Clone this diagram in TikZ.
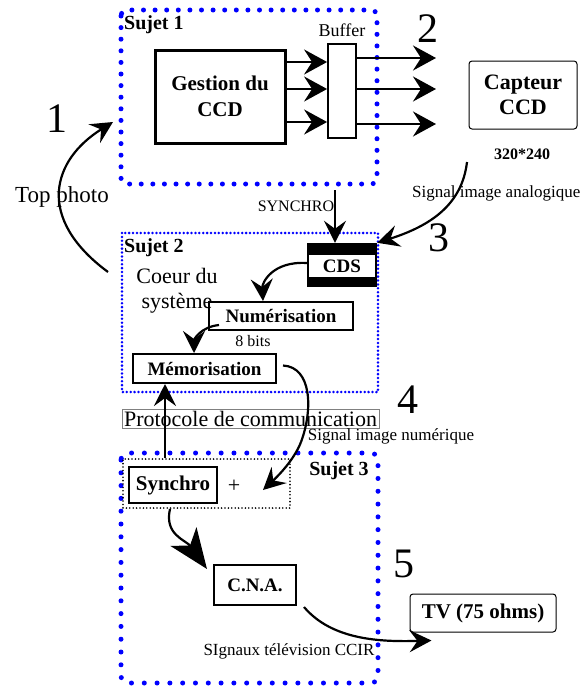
\documentclass[tikz,border=0pt]{standalone}
\usepackage{fontspec}
\setmainfont{Liberation Serif}
\usetikzlibrary{arrows.meta,calc}
\begin{document}
\begin{tikzpicture}[x=1pt,y=-1pt,
  bigtip/.tip={Stealth[length=23pt,width=25pt,inset=8pt]},
  medtip/.tip={Stealth[length=22pt,width=22pt,inset=8pt]},
  hugetip/.tip={Stealth[length=40pt,width=32pt,inset=11pt]},
  conn/.style={line width=2.2pt},
  bluebig/.style={draw=blue, line width=5pt, line cap=round, dash pattern=on 0pt off 11.6pt, rounded corners=6pt},
  bluebigb/.style={draw=blue, line width=5pt, line cap=round, dash pattern=on 0pt off 12.8pt, rounded corners=7pt},
  bluesmall/.style={draw=blue, line width=2.8pt, line cap=round, dash pattern=on 0pt off 3.9pt},
  blackdot/.style={draw=black, line width=1.8pt, line cap=round, dash pattern=on 0pt off 3.4pt},
  box/.style={draw, line width=2pt, inner sep=0pt, font=\bfseries\fontsize{19}{23}\selectfont},
  rbox/.style={draw, line width=1pt, rounded corners=3pt, inner sep=0pt, align=center},
  big/.style={font=\fontsize{42}{46}\selectfont, inner sep=0pt},
  lbl/.style={inner sep=0pt},
]
\useasboundingbox (0,0) rectangle (580,688);

% group boxes
\draw[bluebig] (121,10) rectangle (377,184);
\draw[bluesmall] (122,233) rectangle (378,392);
\draw[bluebigb] (121,453) rectangle (378,683);

\node[lbl, anchor=west, font=\bfseries\fontsize{20}{24}\selectfont] (s1) at (124,25) {Sujet 1};
\node[lbl, anchor=west, font=\bfseries\fontsize{20}{24}\selectfont] (s2) at (124,248) {Sujet 2};
\node[lbl, font=\bfseries\fontsize{20}{24}\selectfont] (s3) at (339,471) {Sujet 3};

% Sujet 1
\node[draw, line width=3pt, minimum width=130, minimum height=93, inner sep=0pt, align=center,
      font=\bfseries\fontsize{21}{26}\selectfont] (gestion) at (220,96.5) {Gestion du\\CCD};
\node[draw, line width=1.8pt, minimum width=28, minimum height=94, inner sep=0pt] (buffer) at (342,91) {};
\node[lbl, font=\fontsize{18}{22}\selectfont] (buflbl) at (342,30) {Buffer};
\foreach \yy in {62,89,122}{
  \draw[conn,-{bigtip}] (gestion.east |- 0,\yy) -- (buffer.west |- 0,\yy);
}
\coordinate (o1) at (436,58);
\coordinate (o2) at (436,89);
\coordinate (o3) at (436,124);
\draw[line width=2.5pt,-{bigtip}] (buffer.east |- o1) -- (o1);
\draw[line width=2.5pt,-{bigtip}] (buffer.east |- o2) -- (o2);
\draw[line width=2.5pt,-{bigtip}] (buffer.east |- o3) -- (o3);

\node[big] (n2) at (428,29) {2};
\node[big] (n1) at (57,119) {1};
\node[big] (n3) at (439,238) {3};
\node[big] (n4) at (408,400) {4};
\node[big] (n5) at (404,564) {5};

% Capteur
\node[rbox, minimum width=108, minimum height=68, font=\bfseries\fontsize{22}{25}\selectfont] (capteur) at (523,95) {Capteur\\CCD};
\node[lbl, font=\bfseries\fontsize{16}{19}\selectfont] (res) at (522,154) {320*240};
\node[lbl, anchor=west, font=\fontsize{17}{20}\selectfont] (sia) at (412,193) {Signal image analogique};

% CDS
\node[fill=black, minimum width=70, minimum height=44, inner sep=0pt] (cdsout) at (342,265) {};
\node[fill=white, minimum width=66, minimum height=22, inner sep=0pt, font=\bfseries\fontsize{19}{23}\selectfont] (cds) at (342,266) {CDS};

\coordinate (capstart) at (467,162);
\draw[conn,-{medtip}] (capstart) .. controls (462,205) and (430,226) .. (cdsout.north east);

% Top photo
\coordinate (tpstart) at (108,272);
\coordinate (tpend) at (113,122);
\draw[conn,-{medtip}] (tpstart) .. controls (35,218) and (52,160) .. (tpend);
\node[lbl, font=\fontsize{23}{27}\selectfont] (tp) at (62,197) {Top photo};

% SYNCHRO
\node[lbl, font=\fontsize{16}{19}\selectfont] (synclbl) at (296,206) {SYNCHRO};
\coordinate (syncstart) at (335,190);
\draw[conn,-{medtip}] (syncstart) -- (syncstart |- cdsout.north);

% Sujet 2 content
\node[lbl, align=center, font=\fontsize{22}{25}\selectfont] (coeur) at (177,291) {Coeur du\\système};
\node[box, minimum width=144, minimum height=28] (num) at (281,316) {Numérisation};
\node[lbl, font=\fontsize{16}{19}\selectfont] (bits) at (253,341) {8 bits};
\node[box, minimum width=143, minimum height=29] (mem) at (204.5,368.5) {Mémorisation};

\draw[conn,-{medtip}] (cdsout.west |- 0,263) .. controls (272,261) and (262,283) .. (num.north -| 263,0);
\draw[conn,-{medtip}] ($(num.south west)+(11,-6)$) .. controls (200,327) and (194,340) .. (mem.north -| 194,0);

% Protocole
\node[draw=gray, line width=1pt, minimum width=257, minimum height=19, inner sep=0pt,
      font=\fontsize{22}{24}\selectfont] (proto) at (250.5,418.5) {Protocole de communication};
\node[lbl, font=\fontsize{17}{20}\selectfont] (sin) at (391,436) {Signal image numérique};

% Sujet 3 content
\node[blackdot, minimum width=167, minimum height=49, inner sep=0pt] (grp) at (206.5,483.5) {};
\node[box, minimum width=88, minimum height=36, font=\bfseries\fontsize{21}{25}\selectfont] (synchro) at (173,485) {Synchro};
\node[lbl, font=\fontsize{22}{24}\selectfont] (plus) at (234,486) {+};
\coordinate (pc) at (165,458);
\draw[conn,-{medtip}] (pc) -- (pc |- mem.south);

\coordinate (plustip) at (263,490);
\draw[conn] ($(mem.east)+(6,-3)$) .. controls (312,367) and (313,410) .. (301,442);
\draw[conn,-{medtip}] (301,442) .. controls (294,460) and (278,476) .. (plustip);

\node[box, minimum width=82, minimum height=40] (cna) at (255,585) {C.N.A.};
\draw[conn,-{hugetip}] (grp.south -| 170,0) .. controls (164,535) and (186,540) .. ($(cna.north west)+(-6,5)$);

\node[rbox, minimum width=146, minimum height=38, font=\bfseries\fontsize{21}{25}\selectfont] (tv) at (483,613) {TV (75 ohms)};
\draw[conn,-{medtip}] ($(cna.south east)+(7,1)$) .. controls (332,640) and (380,642) .. ($(tv.south west)+(22,8)$);
\node[lbl, font=\fontsize{17}{20}\selectfont] (sig) at (289,651) {SIgnaux télévision CCIR};

\end{tikzpicture}
\end{document}
